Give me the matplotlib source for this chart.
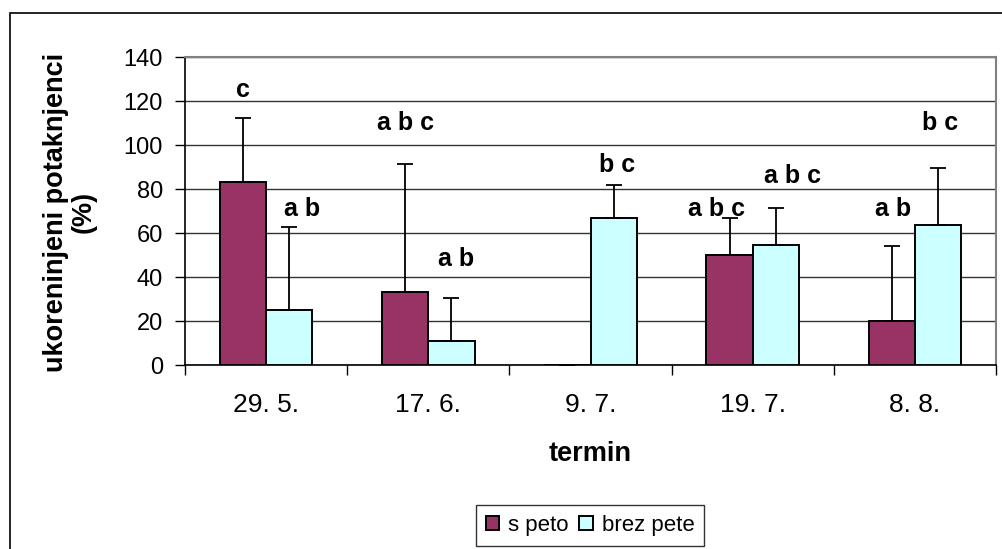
import numpy as np
import matplotlib
matplotlib.use("Agg")
import matplotlib.pyplot as plt
from matplotlib.patches import Rectangle

# data
termini = ["29. 5.", "17. 6.", "9. 7.", "19. 7.", "8. 8."]
s_peto = [83.3, 33.3, 0.0, 50.0, 20.0]
s_peto_err = [29.0, 58.2, 0.0, 16.7, 34.2]
brez_pete = [25.0, 11.1, 66.7, 54.5, 63.6]
brez_pete_err = [37.7, 19.2, 15.1, 16.9, 25.9]
s_peto_letters = ["c", "a b c", "", "a b c", "a b"]
brez_pete_letters = ["a b", "a b", "b c", "a b c", "b c"]
s_letter_y = [125, 110, 0, 71, 71]
b_letter_y = [71, 48, 91, 86, 110]
s_letter_dx = [0.0, 0.0, 0.0, -0.08, 0.01]
b_letter_dx = [0.08, 0.03, 0.02, 0.1, 0.01]

plt.rcParams['font.family'] = ['Liberation Sans', 'DejaVu Sans']

fig = plt.figure(figsize=(10.02, 5.49), dpi=100)
ax = fig.add_axes([185/1002, 1-365/549, 811/1002, 308/549])

# outer chart frame
fig.patches.append(Rectangle((10/1002, -0.1), 1.2, 1-13/549+0.1,
                             transform=fig.transFigure, fill=False,
                             edgecolor='black', linewidth=1.2))

x = np.arange(len(termini))
w = 1/3.5
c_s = '#993366'
c_b = '#CCFFFF'

ax.bar(x - w/2, s_peto, w, color=c_s, edgecolor='black', linewidth=1.4,
       label='s peto', zorder=3)
ax.bar(x + w/2, brez_pete, w, color=c_b, edgecolor='black', linewidth=1.4,
       label='brez pete', zorder=3)
ax.errorbar(x - w/2, s_peto, yerr=[np.zeros(5), s_peto_err], fmt='none',
            ecolor='black', elinewidth=1.3, capsize=6, capthick=1.3, zorder=4)
ax.errorbar(x + w/2, brez_pete, yerr=[np.zeros(5), brez_pete_err], fmt='none',
            ecolor='black', elinewidth=1.3, capsize=6, capthick=1.3, zorder=4)

for i in range(len(termini)):
    if s_peto_letters[i]:
        ax.text(x[i] - w/2 + s_letter_dx[i], s_letter_y[i], s_peto_letters[i],
                ha='center', va='center', fontsize=18, fontweight='bold', zorder=5)
    ax.text(x[i] + w/2 + b_letter_dx[i], b_letter_y[i], brez_pete_letters[i],
            ha='center', va='center', fontsize=18, fontweight='bold', zorder=5)

ax.set_xlim(-0.5, len(termini) - 0.5)
ax.set_ylim(0, 140)
ax.set_yticks(np.arange(0, 141, 20))
ax.yaxis.grid(True, color='#333333', linewidth=1.0, zorder=0)
ax.tick_params(axis='y', direction='out', length=7, width=1, pad=9, labelsize=17)

ax.set_xticks(x)
ax.set_xticklabels(termini, fontsize=19)
ax.set_xticks(np.arange(-0.5, len(termini), 1), minor=True)
ax.tick_params(axis='x', which='major', length=0, pad=20)
ax.tick_params(axis='x', which='minor', direction='out', length=7, width=1)

for side in ['top', 'right']:
    ax.spines[side].set_color('#808080')
    ax.spines[side].set_linewidth(1.5)
for side in ['left', 'bottom']:
    ax.spines[side].set_color('black')
    ax.spines[side].set_linewidth(1.2)

fig.text(590/1002, 1-454/549, 'termin', ha='center', va='center',
         fontsize=19.5, fontweight='bold')
fig.text(70/1002, 1-212/549, 'ukoreninjeni potaknjenci\n(%)', rotation=90,
         ha='center', va='center', multialignment='center',
         fontsize=19.5, fontweight='bold', linespacing=1.1)

leg = fig.legend(loc='center', bbox_to_anchor=(590/1002, 1-525.5/549),
                 ncol=2, frameon=True, fancybox=False, edgecolor='black',
                 prop={'size': 16}, handlelength=0.6,
                 handleheight=0.6, handletextpad=0.4, columnspacing=0.5,
                 borderpad=0.45, borderaxespad=0)
leg.get_frame().set_linewidth(1.0)

fig.savefig('out.png', dpi=100)
